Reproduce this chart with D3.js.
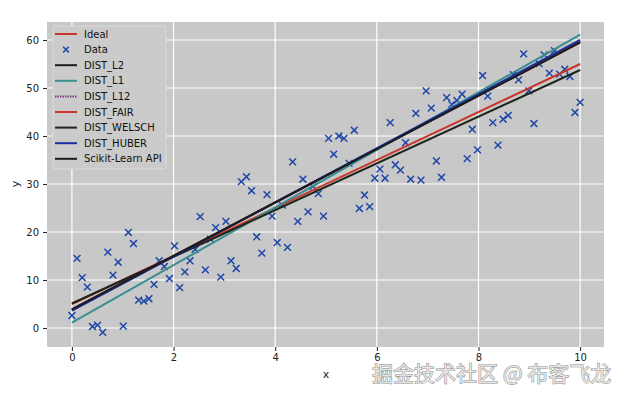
<!DOCTYPE html>
<html lang="en">
<head>
    <meta charset="UTF-8">
    <title>Line fits</title>
    <script src="https://d3js.org/d3.v7.min.js"></script>
    <style>
        body { margin: 0; background: #fff; }
        .tick text { font-family: "DejaVu Sans", sans-serif; font-size: 10px; fill: #222; }
        .legend text { font-family: "DejaVu Sans", sans-serif; font-size: 10px; fill: #111; }
        .fit { fill: none; stroke-width: 2px; }
        .mark { stroke: #1f47a8; stroke-width: 1.5px; }
    </style>
</head>
<body>
    <div id="chart"></div>
    <script>
        // noisy samples, x = 0..10 in 100 steps
        const dataY = [2.6, 14.5, 10.5, 8.5, 0.3, 0.6, -0.9, 15.8, 11, 13.7,
            0.4, 19.9, 17.6, 5.8, 5.6, 6.1, 9.1, 14, 12.8, 10.3,
            17.1, 8.4, 11.7, 14, 16.4, 23.2, 12.1, 18.5, 20.9, 10.6,
            22.2, 14, 12.4, 30.5, 31.5, 28.6, 19, 15.6, 27.8, 23.3,
            17.8, 25.6, 16.8, 34.6, 22.2, 31, 24.2, 29.5, 28, 23.3,
            39.5, 36.2, 40, 39.5, 34.3, 41.2, 24.9, 27.7, 25.3, 31.2,
            33.1, 31.2, 42.8, 34, 32.9, 38.6, 31, 44.7, 30.8, 49.4,
            45.8, 34.8, 31.4, 48, 46.6, 47.4, 48.7, 35.3, 41.4, 37.1,
            52.6, 48.3, 42.8, 38.1, 43.5, 44.3, 52.8, 51.7, 57.1, 49.4,
            42.6, 55.1, 56.9, 53.1, 57.8, 52.9, 53.9, 52.4, 44.9, 47.0];
        const dataX = dataY.map((d, i) => i * 10 / 99);

        // fitted lines: value at x=0 and at x=10
        const fitNames = ["Ideal", "DIST_L2", "DIST_L1", "DIST_L12", "DIST_FAIR", "DIST_WELSCH", "DIST_HUBER", "Scikit-Learn API"];
        const fitStart = [5, 3.9, 1.1, 3.7, 3.8, 5.1, 3.6, 3.9];
        const fitEnd = [55, 59.5, 61.1, 59.8, 59.7, 53.75, 60.0, 59.5];
        const fitColors = ["#c8352b", "#1c1c1c", "#3a8e8e", "#7b3f7b", "#c8352b", "#1c261c", "#1a2fa0", "#1c1c1c"];
        const fitWidths = [2, 2, 2, 2, 2, 2, 3, 1.2];

        const xTicks = [0, 2, 4, 6, 8, 10];
        const yTicks = [0, 10, 20, 30, 40, 50, 60];

        const width = 628, height = 395;
        const plot = { left: 47, right: 604, top: 22, bottom: 347 };

        const svg = d3.select("#chart").append("svg")
            .attr("width", width).attr("height", height);

        const x = d3.scaleLinear().domain([-0.49, 10.47]).range([plot.left, plot.right]);
        const y = d3.scaleLinear().domain([-3.96, 63.75]).range([plot.bottom, plot.top]);

        svg.append("rect")
            .attr("x", plot.left).attr("y", plot.top)
            .attr("width", plot.right - plot.left).attr("height", plot.bottom - plot.top)
            .attr("fill", "#c8c8c8");

        // grid
        svg.append("g").selectAll("line").data(xTicks).join("line")
            .attr("x1", d => x(d)).attr("x2", d => x(d))
            .attr("y1", plot.top).attr("y2", plot.bottom)
            .attr("stroke", "#fff").attr("stroke-width", 1.2);
        svg.append("g").selectAll("line").data(yTicks).join("line")
            .attr("x1", plot.left).attr("x2", plot.right)
            .attr("y1", d => y(d)).attr("y2", d => y(d))
            .attr("stroke", "#fff").attr("stroke-width", 1.2);

        // axes
        const xAxis = svg.append("g")
            .attr("transform", `translate(0,${plot.bottom})`)
            .call(d3.axisBottom(x).tickValues(xTicks).tickSize(4).tickPadding(3));
        const yAxis = svg.append("g")
            .attr("transform", `translate(${plot.left},0)`)
            .call(d3.axisLeft(y).tickValues(yTicks).tickSize(4).tickPadding(4));
        xAxis.select(".domain").remove();
        yAxis.select(".domain").remove();
        svg.selectAll(".tick line").attr("stroke", "#222");

        svg.append("text").attr("x", 326).attr("y", 378)
            .attr("text-anchor", "middle")
            .attr("font-family", "DejaVu Sans").attr("font-size", 11).attr("fill", "#222")
            .text("x");
        svg.append("text")
            .attr("transform", "translate(19,184) rotate(-90)")
            .attr("text-anchor", "middle")
            .attr("font-family", "DejaVu Sans").attr("font-size", 11).attr("fill", "#222")
            .text("y");

        // data crosses
        const s = 3.4;
        const marks = svg.append("g");
        dataY.forEach((v, i) => {
            const cx = x(dataX[i]), cy = y(v);
            marks.append("path").attr("class", "mark")
                .attr("d", `M${cx - s},${cy - s}L${cx + s},${cy + s}M${cx - s},${cy + s}L${cx + s},${cy - s}`);
        });

        // fits
        const line = d3.line().x(d => x(d[0])).y(d => y(d[1]));
        fitNames.forEach((name, i) => {
            svg.append("path").attr("class", "fit")
                .attr("d", line([[0, fitStart[i]], [10, fitEnd[i]]]))
                .attr("stroke", fitColors[i])
                .attr("stroke-width", fitWidths[i])
                .attr("stroke-dasharray", name === "DIST_L12" ? "1.5,1" : null);
        });

        // legend
        const legendItems = ["Ideal", "Data"].concat(fitNames.slice(1));
        const lg = svg.append("g").attr("class", "legend");
        lg.append("rect").attr("x", 53).attr("y", 26).attr("width", 113).attr("height", 143)
            .attr("rx", 2).attr("fill", "#cbcbcb").attr("stroke", "#dadada");
        legendItems.forEach((name, i) => {
            const ly = 34 + i * 15.6;
            if (name === "Data") {
                lg.append("path").attr("class", "mark")
                    .attr("d", `M${66 - 2.8},${ly - 2.8}L${66 + 2.8},${ly + 2.8}M${66 - 2.8},${ly + 2.8}L${66 + 2.8},${ly - 2.8}`);
            } else {
                const k = fitNames.indexOf(name);
                lg.append("line").attr("x1", 55).attr("x2", 77)
                    .attr("y1", ly).attr("y2", ly)
                    .attr("stroke", fitColors[k]).attr("stroke-width", 2)
                    .attr("stroke-dasharray", name === "DIST_L12" ? "1.5,1" : null);
            }
            lg.append("text").attr("x", 84).attr("y", ly + 3.5).text(name);
        });

        // watermark
        svg.append("text").attr("x", 372).attr("y", 381)
            .attr("font-family", "Noto Sans CJK SC").attr("font-size", 21)
            .attr("fill", "#e6e6e6").attr("stroke", "#8a8a8a").attr("stroke-width", 1)
            .attr("paint-order", "stroke")
            .text("掘金技术社区 @ 布客飞龙");
    </script>
</body>
</html>
